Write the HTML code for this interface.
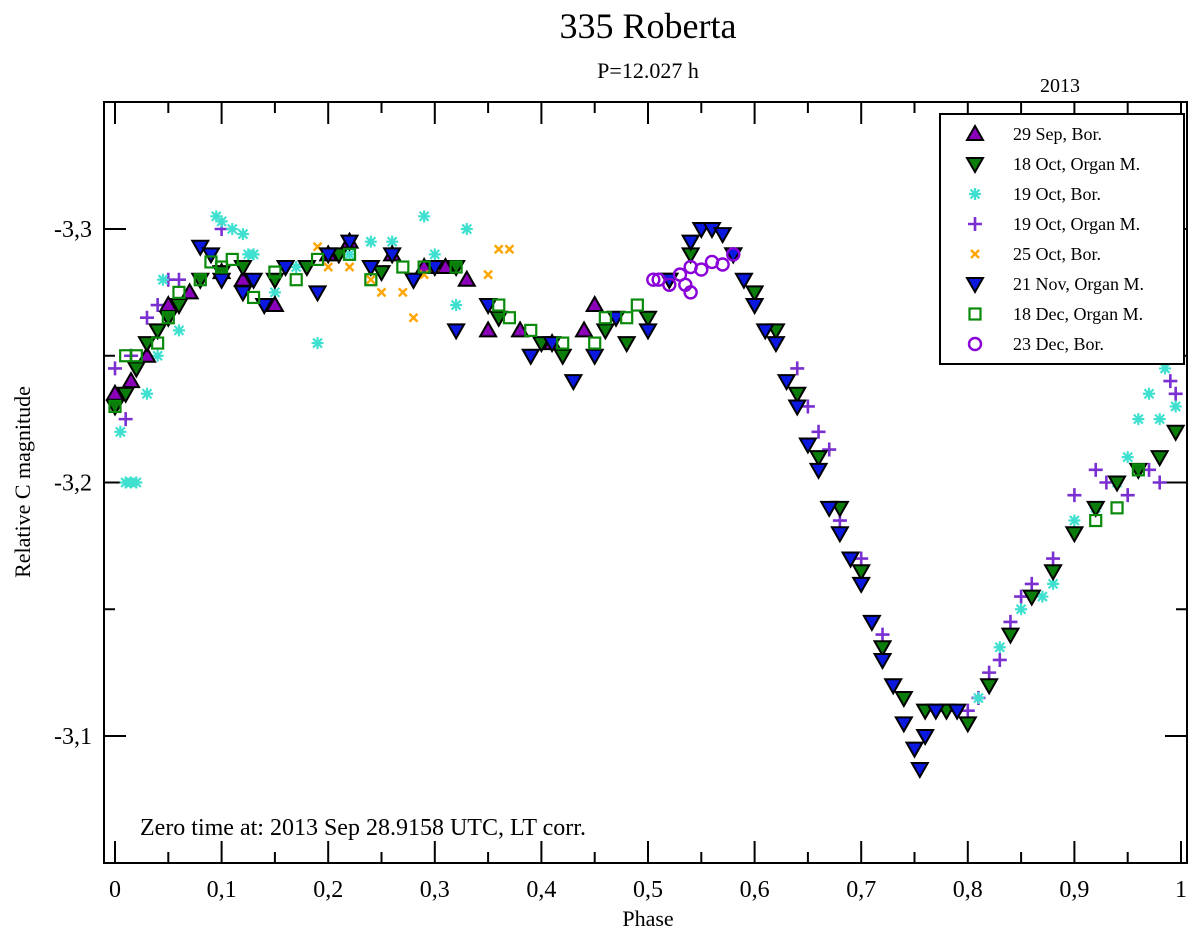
<!DOCTYPE html>
<html><head><meta charset="utf-8"><style>
body{margin:0;background:#fff;}
svg{display:block;font-family:"Liberation Serif",serif;}
</style></head><body>
<svg id="c" width="1200" height="938"></svg>
<script>
const xTicks=[0,0.1,0.2,0.3,0.4,0.5,0.6,0.7,0.8,0.9,1];
const xTickLabels=["0","0,1","0,2","0,3","0,4","0,5","0,6","0,7","0,8","0,9","1"];
const yTicks=[-3.3,-3.2,-3.1];
const yTickLabels=["-3,3","-3,2","-3,1"];
const sepPh=[0,0.015,0.03,0.05,0.07,0.1,0.12,0.15,0.2,0.22,0.26,0.29,0.31,0.33,0.35,0.38,0.41,0.44,0.45];
const sepMag=[-3.235,-3.24,-3.25,-3.27,-3.275,-3.283,-3.28,-3.27,-3.29,-3.295,-3.29,-3.285,-3.285,-3.28,-3.26,-3.26,-3.255,-3.26,-3.27];
const oct18Ph=[0,0.01,0.02,0.03,0.04,0.05,0.06,0.08,0.1,0.12,0.15,0.18,0.21,0.25,0.28,0.32,0.36,0.4,0.42,0.46,0.48,0.5,0.52,0.54,0.58,0.6,0.62,0.64,0.66,0.68,0.7,0.72,0.74,0.76,0.78,0.8,0.82,0.84,0.86,0.88,0.9,0.92,0.94,0.96,0.98,0.995];
const oct18Mag=[-3.23,-3.235,-3.245,-3.255,-3.26,-3.265,-3.27,-3.28,-3.283,-3.285,-3.28,-3.285,-3.29,-3.283,-3.28,-3.285,-3.265,-3.255,-3.25,-3.26,-3.255,-3.265,-3.28,-3.29,-3.29,-3.275,-3.26,-3.235,-3.21,-3.19,-3.165,-3.135,-3.115,-3.11,-3.11,-3.105,-3.12,-3.14,-3.155,-3.165,-3.18,-3.19,-3.2,-3.205,-3.21,-3.22];
const oct19bPh=[0.005,0.01,0.015,0.02,0.03,0.04,0.045,0.06,0.095,0.1,0.11,0.12,0.125,0.13,0.15,0.17,0.19,0.22,0.24,0.26,0.29,0.3,0.32,0.33,0.81,0.83,0.85,0.87,0.88,0.9,0.92,0.94,0.95,0.96,0.97,0.98,0.985,0.995];
const oct19bMag=[-3.22,-3.2,-3.2,-3.2,-3.235,-3.25,-3.28,-3.26,-3.305,-3.303,-3.3,-3.298,-3.29,-3.29,-3.275,-3.285,-3.255,-3.29,-3.295,-3.295,-3.305,-3.29,-3.27,-3.3,-3.115,-3.135,-3.15,-3.155,-3.16,-3.185,-3.19,-3.2,-3.21,-3.225,-3.235,-3.225,-3.245,-3.23];
const oct19oPh=[0,0.01,0.015,0.03,0.04,0.05,0.06,0.1,0.64,0.65,0.66,0.67,0.68,0.7,0.72,0.78,0.8,0.81,0.82,0.83,0.84,0.85,0.86,0.88,0.9,0.92,0.93,0.95,0.97,0.98,0.99,0.995];
const oct19oMag=[-3.245,-3.225,-3.25,-3.265,-3.27,-3.28,-3.28,-3.3,-3.245,-3.23,-3.22,-3.213,-3.185,-3.17,-3.14,-3.11,-3.11,-3.115,-3.125,-3.13,-3.145,-3.155,-3.16,-3.17,-3.195,-3.205,-3.2,-3.195,-3.205,-3.2,-3.24,-3.235];
const oct25Ph=[0.19,0.2,0.22,0.24,0.25,0.27,0.28,0.29,0.3,0.35,0.36,0.37];
const oct25Mag=[-3.293,-3.285,-3.285,-3.28,-3.275,-3.275,-3.265,-3.282,-3.285,-3.282,-3.292,-3.292];
const novPh=[0.08,0.09,0.1,0.12,0.13,0.14,0.16,0.19,0.2,0.22,0.24,0.26,0.28,0.3,0.32,0.35,0.39,0.41,0.43,0.45,0.47,0.5,0.52,0.54,0.55,0.56,0.57,0.58,0.59,0.6,0.61,0.62,0.63,0.64,0.65,0.66,0.67,0.68,0.69,0.7,0.71,0.72,0.73,0.74,0.75,0.755,0.76,0.77,0.79];
const novMag=[-3.293,-3.29,-3.28,-3.275,-3.28,-3.27,-3.285,-3.275,-3.29,-3.295,-3.285,-3.29,-3.28,-3.285,-3.26,-3.27,-3.25,-3.255,-3.24,-3.25,-3.265,-3.26,-3.28,-3.295,-3.3,-3.3,-3.298,-3.29,-3.28,-3.27,-3.26,-3.255,-3.24,-3.23,-3.215,-3.205,-3.19,-3.18,-3.17,-3.16,-3.145,-3.13,-3.12,-3.105,-3.095,-3.087,-3.1,-3.11,-3.11];
const decPh=[0,0.01,0.02,0.04,0.05,0.06,0.08,0.09,0.1,0.11,0.13,0.15,0.17,0.19,0.22,0.24,0.27,0.29,0.32,0.36,0.37,0.39,0.42,0.45,0.46,0.48,0.49,0.92,0.94,0.96];
const decMag=[-3.23,-3.25,-3.25,-3.255,-3.265,-3.275,-3.28,-3.287,-3.285,-3.288,-3.273,-3.283,-3.28,-3.288,-3.29,-3.28,-3.285,-3.285,-3.285,-3.27,-3.265,-3.26,-3.255,-3.255,-3.265,-3.265,-3.27,-3.185,-3.19,-3.205];
const dec23Ph=[0.505,0.51,0.52,0.53,0.535,0.54,0.55,0.56,0.57,0.58,0.54];
const dec23Mag=[-3.28,-3.28,-3.278,-3.282,-3.278,-3.285,-3.284,-3.287,-3.286,-3.29,-3.275];

const NS="http://www.w3.org/2000/svg";
const svg=document.getElementById('c');
const L=104,R=1187,T=102,B=863;
const X=p=>115+p*1066;
const Y=m=>229+(m+3.3)*2535;
function el(tag,attrs,parent){const e=document.createElementNS(NS,tag);for(const k in attrs)e.setAttribute(k,attrs[k]);(parent||svg).appendChild(e);return e;}
function txt(s,x,y,size,anchor,parent){const t=el('text',{x:x,y:y,'font-size':size,'text-anchor':anchor||'middle',fill:'#000'},parent);t.textContent=s;return t;}

let t;
t=txt('335 Roberta',648,38,36);
t=txt('P=12.027 h',648,78,22);
t=txt('2013',1060,92,20);
t=txt('Phase',648,926,22);
t=txt('Relative C magnitude',0,0,22);t.setAttribute('transform','translate(30,482) rotate(-90)');

t=txt('Zero time at: 2013 Sep 28.9158 UTC, LT corr.',140,835,24,'start');


const ax=el('g',{stroke:'#000','stroke-width':2,fill:'none'});

el('rect',{x:L,y:T,width:R-L,height:B-T},ax);
xTicks.forEach((v,i)=>{const x=X(v);el('line',{x1:x,y1:B,x2:x,y2:B-22},ax);el('line',{x1:x,y1:T,x2:x,y2:T+22},ax);
 const lb=txt(xTickLabels[i],x,897,24);
 if(i<xTicks.length-1){const xm=X(v+0.05);el('line',{x1:xm,y1:B,x2:xm,y2:B-11},ax);el('line',{x1:xm,y1:T,x2:xm,y2:T+11},ax);}});
yTicks.forEach((v,i)=>{const y=Y(v);el('line',{x1:L,y1:y,x2:L+22,y2:y},ax);el('line',{x1:R,y1:y,x2:R-22,y2:y},ax);
 const lb=txt(yTickLabels[i],92,y+8,24,'end');});
[-3.35,-3.25,-3.15,-3.05].forEach(v=>{const y=Y(v);if(y>T+2&&y<B-2){el('line',{x1:L,y1:y,x2:L+11,y2:y},ax);el('line',{x1:R,y1:y,x2:R-11,y2:y},ax);}});

function marker(type,x,y,g){
 if(type==='up')return el('polygon',{points:`${x},${y-8} ${x-8},${y+6} ${x+8},${y+6}`,fill:'#8a00b8',stroke:'#000','stroke-width':2},g);
 if(type==='downG')return el('polygon',{points:`${x},${y+8} ${x-8},${y-6} ${x+8},${y-6}`,fill:'#0a7d0a',stroke:'#000','stroke-width':2},g);
 if(type==='downB')return el('polygon',{points:`${x},${y+8} ${x-8},${y-6} ${x+8},${y-6}`,fill:'#0a18e0',stroke:'#000','stroke-width':2},g);
 if(type==='ast'){const p=el('path',{d:`M${x-6},${y}H${x+6}M${x},${y-6}V${y+6}M${x-4.5},${y-4.5}L${x+4.5},${y+4.5}M${x-4.5},${y+4.5}L${x+4.5},${y-4.5}`,stroke:'#40e0d0','stroke-width':2.2},g);return p;}
 if(type==='plus')return el('path',{d:`M${x-7},${y}H${x+7}M${x},${y-7}V${y+7}`,stroke:'#7a2fd0','stroke-width':2.6},g);
 if(type==='x')return el('path',{d:`M${x-4},${y-4}L${x+4},${y+4}M${x-4},${y+4}L${x+4},${y-4}`,stroke:'#ffa500','stroke-width':2.4},g);
 if(type==='sq')return el('rect',{x:x-5.5,y:y-5.5,width:11,height:11,fill:'none',stroke:'#0a8a0a','stroke-width':2.2},g);
 if(type==='circ')return el('circle',{cx:x,cy:y,r:6,fill:'none',stroke:'#8a00d8','stroke-width':2.4},g);
}
const series=[
 ['oct19o',oct19oPh,oct19oMag,'plus','19 Oct, Organ M.'],
 ['oct19b',oct19bPh,oct19bMag,'ast','19 Oct, Bor.'],
 ['sep29',sepPh,sepMag,'up','29 Sep, Bor.'],
 ['oct18',oct18Ph,oct18Mag,'downG','18 Oct, Organ M.'],
 ['oct25',oct25Ph,oct25Mag,'x','25 Oct, Bor.'],
 ['nov21',novPh,novMag,'downB','21 Nov, Organ M.'],
 ['dec18',decPh,decMag,'sq','18 Dec, Organ M.'],
 ['dec23',dec23Ph,dec23Mag,'circ','23 Dec, Bor.']
];
series.forEach(s=>{
 const g=el('g',{});
 
 
 s[1].forEach((p,i)=>{const m=marker(s[3],X(p),Y(s[2][i]),g);
  
  });
});
const lg=el('g',{});


el('rect',{x:940,y:114,width:244,height:250,fill:'#fff',stroke:'#000','stroke-width':2},lg);
const order=['sep29','oct18','oct19b','oct19o','oct25','nov21','dec18','dec23'];
order.forEach((k,i)=>{const s=series.find(z=>z[0]===k);const y=134+i*30;
 const e=el('g',{},lg);
 
 
 marker(s[3],975,y,e);
 txt(s[4],1013,y+6,18,'start',e);});
</script>
</body></html>
